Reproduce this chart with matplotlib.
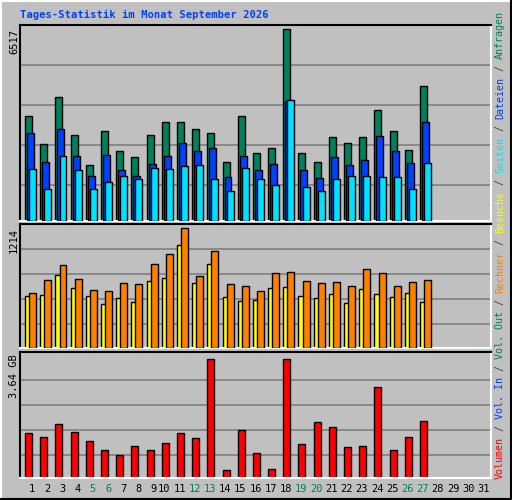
import numpy as np
import matplotlib.pyplot as plt
from matplotlib.lines import Line2D

days = np.arange(1, 28)
anfragen = [3553, 2603, 4198, 2909, 1890, 3044, 2366, 2162, 2909, 3350, 3350, 3112, 2977, 1992,
            3553, 2298, 2467, 6517, 2298, 1992, 2841, 2637, 2841, 3757, 3044, 2400, 4572]
dateien = [2977, 1992, 3112, 2196, 1517, 2230, 1721, 1517, 1924, 2196, 2637, 2366, 2467, 1483,
           2196, 1721, 1924, 4063, 1721, 1449, 2162, 1890, 2060, 2875, 2366, 1958, 3350]
seiten = [1755, 1076, 2196, 1721, 1076, 1313, 1517, 1415, 1789, 1755, 1857, 1890, 1415, 1008,
          1789, 1415, 1212, 4097, 1144, 1008, 1415, 1517, 1517, 1483, 1483, 1076, 1958]
rechner = [556, 688, 840, 698, 587, 577, 658, 647, 850, 951, 1214, 728, 981, 647, 627, 577,
           759, 769, 678, 658, 668, 627, 799, 759, 627, 668, 688]
besuche = [526, 536, 738, 607, 526, 445, 506, 465, 678, 708, 1042, 658, 850, 516, 475, 486,
           607, 617, 526, 506, 546, 455, 597, 546, 516, 556, 465]
volumen = [1.34, 1.22, 1.60, 1.37, 1.10, 0.84, 0.69, 0.95, 0.84, 1.04, 1.34, 1.19, 3.52, 0.25,
           1.43, 0.75, 0.28, 3.52, 1.01, 1.66, 1.52, 0.92, 0.95, 2.70, 0.84, 1.22, 1.69]
weekend = [5, 6, 12, 13, 19, 20, 26, 27]

GREEN, BLUE, CYAN = '#00805C', '#0040FF', '#00E0FF'
YELLOW, ORANGE, RED = '#FFFF00', '#FF8000', '#FF0000'
BG = '#C0C0C0'
W, H = 512, 500

fig = plt.figure(figsize=(5.12, 5.0), dpi=100, facecolor=BG)
mono = 'DejaVu Sans Mono'

def px_axes(x0, y0, x1, y1):
    ax = fig.add_axes([x0 / W, 1 - y1 / H, (x1 - x0) / W, (y1 - y0) / H])
    ax.set_facecolor(BG)
    ax.set_xlim(0, 31)
    ax.set_xticks([])
    ax.set_yticks([])
    for s in ['top', 'left']:
        ax.spines[s].set_color('black')
    for s in ['bottom', 'right']:
        ax.spines[s].set_color('white')
    for s in ax.spines.values():
        s.set_linewidth(1.5)
    return ax

def grid(ax, vals):
    for v in vals:
        ax.axhline(v, color='#808080', lw=1.2, zorder=0)

x = days - 1
bw = 0.46

# Anfragen / Dateien / Seiten
ax1 = px_axes(20, 25, 491, 221)
s1 = 6517 / 192
ax1.set_ylim(0, 196 * s1)
grid(ax1, [h * s1 for h in (36, 76, 116, 156)])
ax1.bar(x + 0.33, anfragen, bw, align='edge', color=GREEN, edgecolor='black', lw=1, zorder=2)
ax1.bar(x + 0.46, dateien, bw, align='edge', color=BLUE, edgecolor='black', lw=1, zorder=3)
ax1.bar(x + 0.60, seiten, bw, align='edge', color=CYAN, edgecolor='black', lw=1, zorder=4)

# Besuche / Rechner
ax2 = px_axes(20, 224, 491, 348)
s2 = 1214 / 120
ax2.set_ylim(0, 124 * s2)
grid(ax2, [h * s2 for h in (24, 49, 74, 99)])
ax2.bar(x + 0.33, besuche, bw, align='edge', color=YELLOW, edgecolor='black', lw=1, zorder=2)
ax2.bar(x + 0.60, rechner, bw, align='edge', color=ORANGE, edgecolor='black', lw=1, zorder=3)

# Volumen
ax3 = px_axes(20, 352, 491, 478)
s3 = 3.64 / 123.3
ax3.set_ylim(0, 126 * s3)
grid(ax3, [h * s3 for h in (23.3, 48.3, 73.3, 98.3)])
ax3.bar(x + 0.33, volumen, bw, align='edge', color=RED, edgecolor='black', lw=1, zorder=2)

# day labels
for d in range(1, 32):
    off = 0.8 if d < 10 else 0.5
    c = GREEN if d in weekend else 'black'
    ax3.text(d - 1 + off, -0.09, str(d), transform=ax3.get_xaxis_transform(),
             ha='center', va='center', fontsize=7.5, family=mono, color=c)

# y max labels
fig.text(14 / W, 1 - 29 / H, '6517', rotation=90, ha='center', va='top', fontsize=7.5, family=mono)
fig.text(14 / W, 1 - 228 / H, '1214', rotation=90, ha='center', va='top', fontsize=7.5, family=mono)
fig.text(14 / W, 1 - 354 / H, '3.64 GB', rotation=90, ha='center', va='top', fontsize=7.5, family=mono)

# title
fig.text(20 / W, 1 - 15 / H, 'Tages-Statistik im Monat September 2026', ha='left', va='center',
         fontsize=7.6, family=mono, weight='bold', color=BLUE)

# right side legend
parts = [('Volumen', RED), (' / ', '#404040'), ('Vol. In', BLUE), (' / ', '#404040'),
         ('Vol. Out', GREEN), (' / ', '#404040'), ('Rechner', ORANGE), (' / ', '#404040'),
         ('Besuche', YELLOW), (' / ', '#404040'), ('Seiten', CYAN), (' / ', '#404040'),
         ('Dateien', BLUE), (' / ', '#404040'), ('Anfragen', GREEN)]
cw = 6.0
y = 479
for t, c in parts:
    fig.text(500 / W, 1 - y / H, t, rotation=90, ha='center', va='bottom', fontsize=7.2,
             family=mono, color=c)
    y -= cw * len(t)

# outer 3D frame
fig.add_artist(Line2D([0.002, 0.002, 0.998], [0.002, 0.998, 0.998], color='white', lw=1.5,
                      transform=fig.transFigure))
fig.add_artist(Line2D([0.002, 0.998, 0.998], [0.002, 0.002, 0.998], color='black', lw=1.5,
                      transform=fig.transFigure))

fig.savefig('out.png', dpi=100, facecolor=BG)
